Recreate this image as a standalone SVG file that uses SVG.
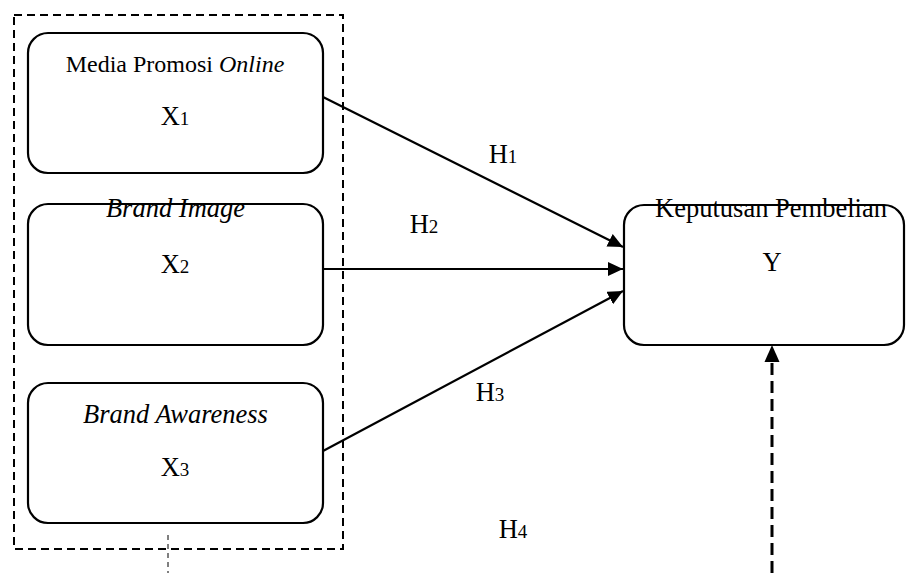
<svg xmlns="http://www.w3.org/2000/svg" width="906" height="573" viewBox="0 0 906 573">
<defs>
<style>
.box{fill:#fff;stroke:#000;stroke-width:2.2}
.t{font-family:"Liberation Serif","Times New Roman",serif;font-size:26.5px;fill:#000;text-anchor:middle}
.i{font-style:italic}
.sub{font-size:19px}
.line{stroke:#000;stroke-width:2.2;fill:none}
</style>
<marker id="ah" markerUnits="userSpaceOnUse" markerWidth="16" markerHeight="14" refX="15" refY="7" orient="auto">
<path d="M0,0 L15,7 L0,14 Z" fill="#000"/>
</marker>
</defs>
<rect x="0" y="0" width="906" height="573" fill="#fff"/>
<g id="group-x">
<rect x="14" y="15" width="329" height="534" fill="none" stroke="#000" stroke-width="2" stroke-dasharray="8,5"/>
<line x1="168" y1="535" x2="168" y2="573" stroke="#000" stroke-width="1" stroke-dasharray="5,4"/>
</g>
<g id="x1">
<rect class="box" x="28" y="33" width="295" height="140" rx="20"/>
<text class="t" x="175" y="72" style="font-size:24px">Media Promosi <tspan class="i">Online</tspan></text>
<text class="t" x="175" y="125">X<tspan class="sub">1</tspan></text>
</g>
<g id="x2">
<rect class="box" x="28" y="204" width="295" height="141" rx="20"/>
<text class="t i" x="175.5" y="217">Brand Image</text>
<text class="t" x="175" y="273">X<tspan class="sub">2</tspan></text>
</g>
<g id="x3">
<rect class="box" x="28" y="383" width="295" height="140" rx="20"/>
<text class="t i" x="175.5" y="423">Brand Awareness</text>
<text class="t" x="175" y="476">X<tspan class="sub">3</tspan></text>
</g>
<g id="y">
<rect class="box" x="624" y="205" width="280" height="140" rx="20"/>
<text class="t" x="771" y="217">Keputusan Pembelian</text>
<text class="t" x="772" y="271">Y</text>
</g>
<g id="connectors">
<line class="line" x1="323" y1="97" x2="623" y2="247" marker-end="url(#ah)"/>
<line class="line" x1="323" y1="269" x2="623" y2="269" marker-end="url(#ah)"/>
<line class="line" x1="323" y1="451" x2="623" y2="291" marker-end="url(#ah)"/>
<line x1="772" y1="573" x2="772" y2="360" stroke="#000" stroke-width="3" stroke-dasharray="12,6"/>
<path d="M772,345 L779.5,362 L764.5,362 Z" fill="#000"/>
</g>
<g id="labels">
<text class="t" x="503" y="163">H<tspan class="sub">1</tspan></text>
<text class="t" x="424" y="233">H<tspan class="sub">2</tspan></text>
<text class="t" x="490" y="401">H<tspan class="sub">3</tspan></text>
<text class="t" x="513" y="538">H<tspan class="sub">4</tspan></text>
</g>
</svg>
